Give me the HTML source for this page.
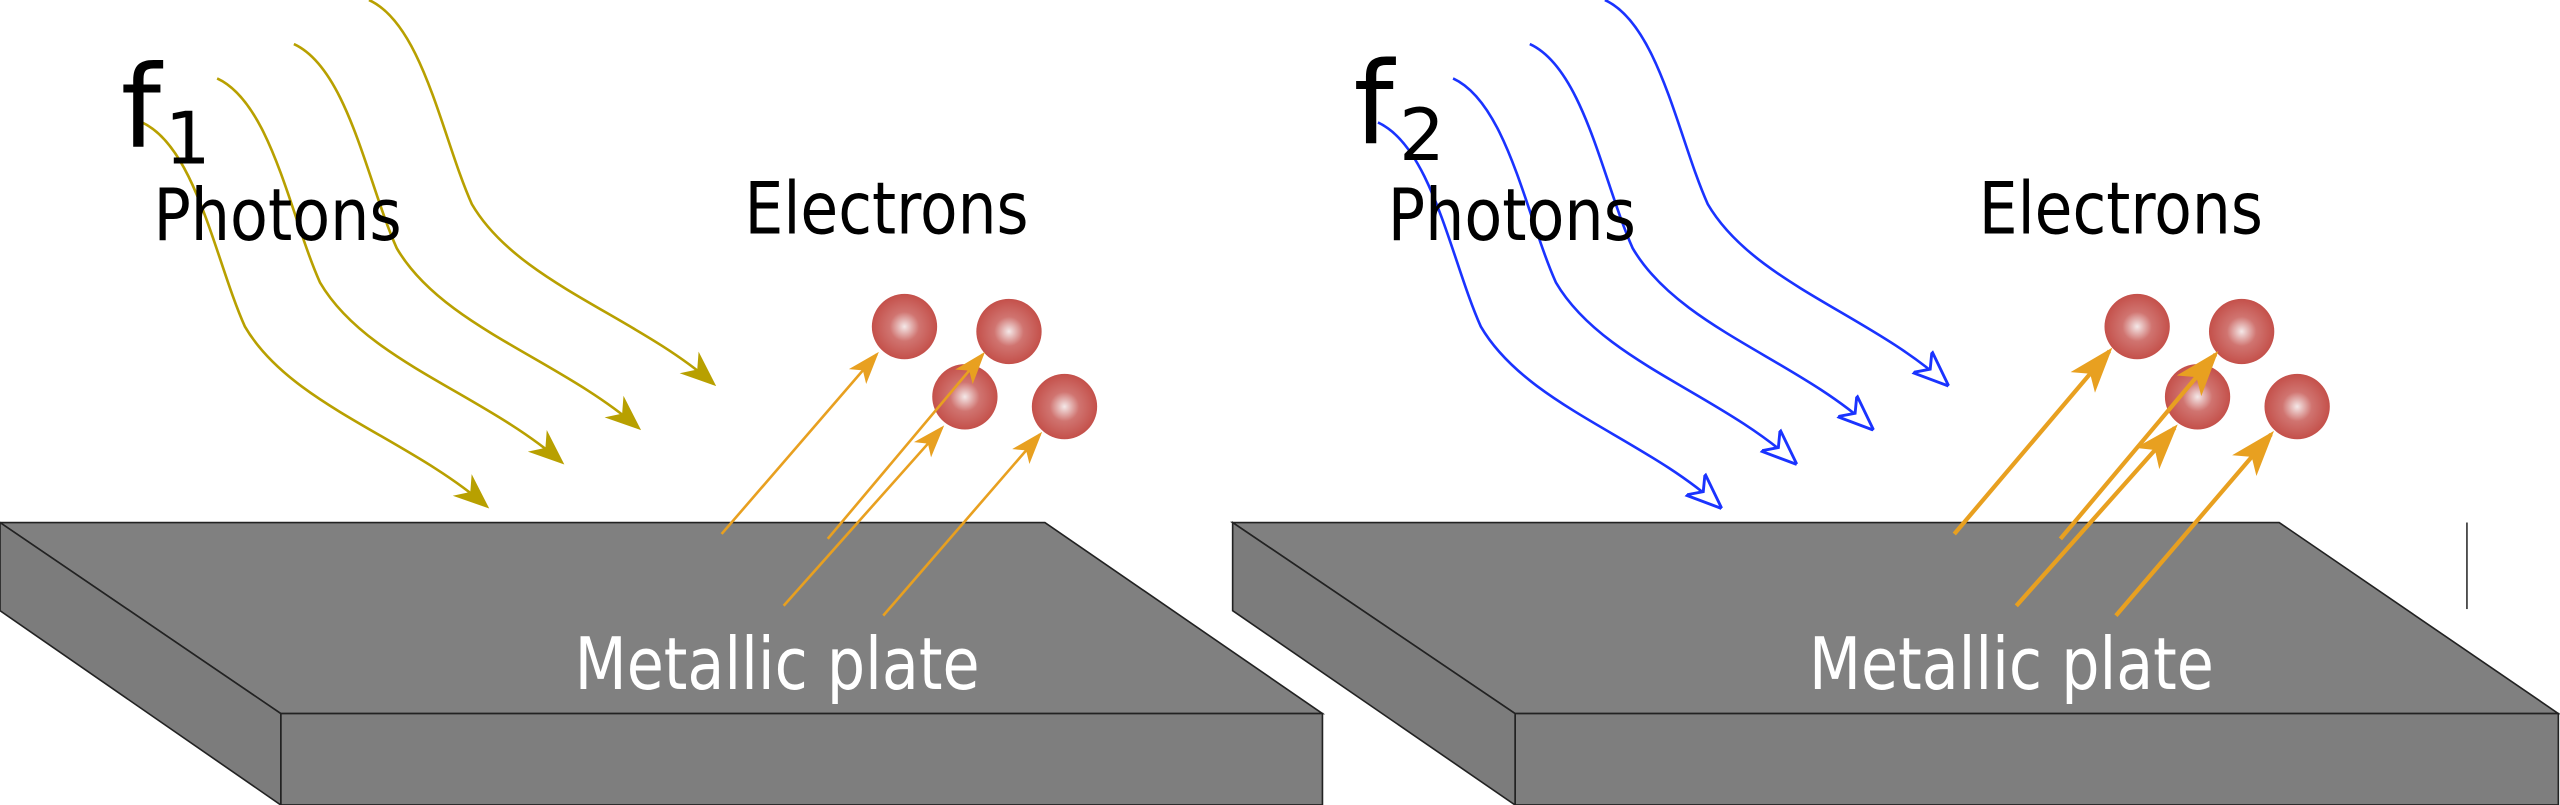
<!DOCTYPE html>
<html><head><meta charset="utf-8"><style>
html,body{margin:0;padding:0;background:#fff;}
svg{display:block;}
text{font-family:"Liberation Sans Narrow","DejaVu Sans","Liberation Sans",sans-serif;}
</style></head><body>
<svg width="2560" height="805" viewBox="0 0 1568 493" preserveAspectRatio="none" xmlns="http://www.w3.org/2000/svg">
<defs>
<radialGradient id="ball" cx="0.5" cy="0.5" r="0.5">
<stop offset="0" stop-color="#f4e8e8"/><stop offset="0.45" stop-color="#d07470"/><stop offset="1" stop-color="#c4504a"/>
</radialGradient>
<marker id="ya" viewBox="0 0 20 20" refX="18" refY="10" markerWidth="22" markerHeight="22" markerUnits="userSpaceOnUse" orient="auto">
<path d="M0,2 L20,10 L0,18 L6,10 Z" fill="#b8a000"/></marker>
<marker id="ba" viewBox="0 0 20 20" refX="18" refY="10" markerWidth="22" markerHeight="22" markerUnits="userSpaceOnUse" orient="auto">
<path d="M0,2 L20,10 L0,18 L6,10 Z" fill="#fff" stroke="#1a33ff" stroke-width="1.6"/></marker>
<marker id="oa" viewBox="0 0 20 20" refX="18" refY="10" markerWidth="20" markerHeight="20" markerUnits="userSpaceOnUse" orient="auto">
<path d="M0,3 L20,10 L0,17 L5,10 Z" fill="#e8a020"/></marker>
<marker id="ob" viewBox="0 0 20 20" refX="18" refY="10" markerWidth="28" markerHeight="28" markerUnits="userSpaceOnUse" orient="auto">
<path d="M0,3 L20,10 L0,17 L5,10 Z" fill="#e8a020"/></marker>
</defs>

<polygon points="0,320 640,320 810,437 172,437" fill="#808080" stroke="#222" stroke-width="1"/>
<polygon points="172,437 810,437 810,493 172,493" fill="#7e7e7e" stroke="#222" stroke-width="1"/>
<polygon points="0,320 172,437 172,493 0,374" fill="#7c7c7c" stroke="#222" stroke-width="1"/>
<polygon points="755,320 1396,320 1567,437 928,437" fill="#808080" stroke="#222" stroke-width="1"/>
<polygon points="928,437 1567,437 1567,493 928,493" fill="#7e7e7e" stroke="#222" stroke-width="1"/>
<polygon points="755,320 928,437 928,493 755,374" fill="#7c7c7c" stroke="#222" stroke-width="1"/>
<line x1="1511" y1="320" x2="1511" y2="373" stroke="#333" stroke-width="1"/>

<text x="352" y="422" font-size="44" fill="#fff" textLength="248" lengthAdjust="spacingAndGlyphs">Metallic plate</text>
<text x="1108" y="422" font-size="44" fill="#fff" textLength="248" lengthAdjust="spacingAndGlyphs">Metallic plate</text>

<g fill="none" stroke="#b8a000" stroke-width="1.6" marker-end="url(#ya)">
<path d="M87,75 C120,90 132,160 150,200 C178,248 250,268 298,310"/>
<path d="M133,48 C166,63 178,133 196,173 C224,221 296,241 344,283"/>
<path d="M180,27 C213,42 225,112 243,152 C271,200 343,220 391,262"/>
<path d="M226,0 C259,15 271,85 289,125 C317,173 389,193 437,235"/>
</g>
<g fill="none" stroke="#1a33ff" stroke-width="1.6" marker-end="url(#ba)">
<path d="M844,75 C877,90 889,160 907,200 C935,248 1007,268 1053,310"/>
<path d="M890,48 C923,63 935,133 953,173 C981,221 1053,241 1099,283"/>
<path d="M937,27 C970,42 982,112 1000,152 C1028,200 1100,220 1146,262"/>
<path d="M983,0 C1016,15 1028,85 1046,125 C1074,173 1146,193 1192,235"/>
</g>

<text x="74" y="90" font-size="70" fill="#000">f</text>
<text x="101" y="100" font-size="44" fill="#000">1</text>
<text x="829" y="88" font-size="70" fill="#000">f</text>
<text x="857" y="98" font-size="44" fill="#000">2</text>
<text x="94" y="147" font-size="44" fill="#000" textLength="152" lengthAdjust="spacingAndGlyphs">Photons</text>
<text x="850" y="147" font-size="44" fill="#000" textLength="152" lengthAdjust="spacingAndGlyphs">Photons</text>
<text x="456" y="143" font-size="44" fill="#000" textLength="174" lengthAdjust="spacingAndGlyphs">Electrons</text>
<text x="1212" y="143" font-size="44" fill="#000" textLength="174" lengthAdjust="spacingAndGlyphs">Electrons</text>

<circle cx="554" cy="200" r="20" fill="url(#ball)"/>
<circle cx="618" cy="203" r="20" fill="url(#ball)"/>
<circle cx="591" cy="243" r="20" fill="url(#ball)"/>
<circle cx="652" cy="249" r="20" fill="url(#ball)"/>
<g stroke="#e8a020" stroke-width="1.6" fill="none" marker-end="url(#oa)">
<line x1="442" y1="327" x2="537" y2="217"/>
<line x1="507" y1="330" x2="602" y2="217"/>
<line x1="480" y1="371" x2="577" y2="262"/>
<line x1="541" y1="377" x2="637" y2="266"/>
</g>
<circle cx="1309" cy="200" r="20" fill="url(#ball)"/>
<circle cx="1373" cy="203" r="20" fill="url(#ball)"/>
<circle cx="1346" cy="243" r="20" fill="url(#ball)"/>
<circle cx="1407" cy="249" r="20" fill="url(#ball)"/>
<g stroke="#e8a020" stroke-width="2.6" fill="none" marker-end="url(#ob)">
<line x1="1197" y1="327" x2="1292" y2="215"/>
<line x1="1262" y1="330" x2="1357" y2="217"/>
<line x1="1235" y1="371" x2="1332" y2="262"/>
<line x1="1296" y1="377" x2="1391" y2="266"/>
</g>
</svg>
</body></html>
